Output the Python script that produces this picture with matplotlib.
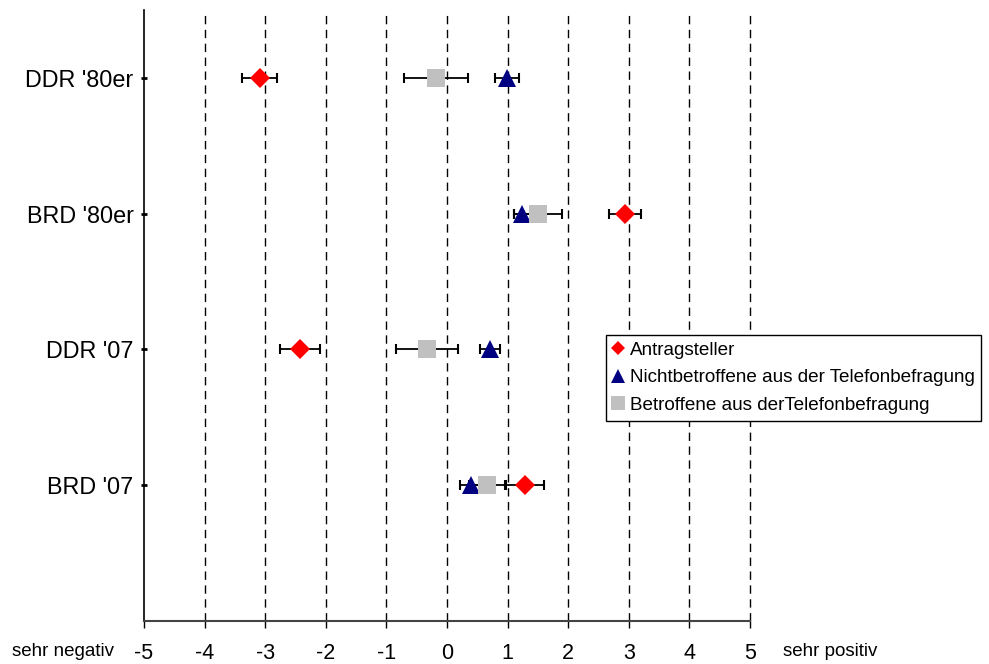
import matplotlib
matplotlib.use("Agg")
import matplotlib.pyplot as plt
from matplotlib.lines import Line2D

plt.rcParams['font.family'] = ['Liberation Sans', 'DejaVu Sans']

categories = ["DDR '80er", "BRD '80er", "DDR '07", "BRD '07"]
y_positions = [4, 3, 2, 1]

series_names = ["Antragsteller",
                "Nichtbetroffene aus der Telefonbefragung",
                "Betroffene aus derTelefonbefragung"]

antrag_vals = [-3.09, 2.94, -2.43, 1.29]
antrag_err = [0.29, 0.26, 0.33, 0.31]

nicht_vals = [0.99, 1.24, 0.71, 0.39]
nicht_err = [0.20, 0.14, 0.17, 0.17]

betr_vals = [-0.18, 1.50, -0.33, 0.66]
betr_err = [0.53, 0.40, 0.51, 0.30]

x_ticks = [-5, -4, -3, -2, -1, 0, 1, 2, 3, 4, 5]
left_label = "sehr negativ"
right_label = "sehr positiv"

fig = plt.figure(figsize=(9.89, 6.64), dpi=100)
ax = fig.add_axes([144/989, 1 - 621/664, (750-144)/989, (621-10)/664])

for xv in x_ticks[1:]:
    ax.axvline(xv, color='black', lw=1.0, linestyle=(0, (6, 4)), zorder=1,
               clip_on=False)

styles = [
    dict(marker='D', color='#FF0000', ms=10),
    dict(marker='^', color='#000080', ms=13.5),
    dict(marker='s', color='#C0C0C0', ms=12.8),
]
data = [(antrag_vals, antrag_err), (nicht_vals, nicht_err), (betr_vals, betr_err)]

handles = []
for (vals, errs), st, name in zip(data, styles, series_names):
    ax.errorbar(vals, y_positions, xerr=errs, fmt='none', ecolor='black',
                elinewidth=1.3, capsize=3.3, capthick=1.5, zorder=2)
    ax.plot(vals, y_positions, linestyle='none', marker=st['marker'],
            color=st['color'], markersize=st['ms'], markeredgewidth=0, zorder=3)
    handles.append(Line2D([], [], linestyle='none', marker=st['marker'],
                          color=st['color'], markeredgewidth=0,
                          markersize={'D': 7.5, '^': 10.5, 's': 10.5}[st['marker']],
                          label=name))

ax.set_xlim(-5, 5)
ax.set_ylim(0, 4.5)
ax.set_xticks(x_ticks)
ax.set_xticklabels([str(v) for v in x_ticks], fontsize=15.5)
ax.set_yticks(y_positions)
ax.set_yticklabels(categories, fontsize=16.8)
ax.tick_params(axis='y', direction='inout', length=5, width=2, pad=5)
ax.tick_params(axis='x', direction='out', length=5, width=1, pad=11)

for s in ['top', 'right']:
    ax.spines[s].set_visible(False)
ax.spines['left'].set_linewidth(1.2)
ax.spines['bottom'].set_linewidth(1.5)
ax.spines['bottom'].set_color('#444444')

fig.text(12/989, 1 - 652/664, left_label, fontsize=13.5, ha='left', va='center')
fig.text(783/989, 1 - 652/664, right_label, fontsize=13.5, ha='left', va='center')

leg = fig.legend(handles=handles, loc='upper left',
                 bbox_to_anchor=(606/989, 1 - 335/664),
                 fontsize=13.6, frameon=True, fancybox=False, framealpha=1,
                 edgecolor='black', handlelength=0.6, handletextpad=0.3,
                 borderpad=0.35, labelspacing=0.55, borderaxespad=0)
leg.get_frame().set_linewidth(1.0)

fig.savefig("out.png", dpi=100)
